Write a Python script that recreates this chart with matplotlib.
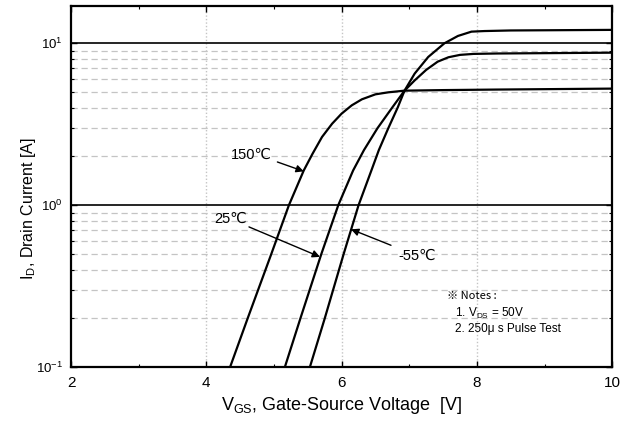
import numpy as np
import matplotlib.pyplot as plt
from matplotlib.ticker import FixedLocator, LogLocator, NullFormatter

plt.rcParams['font.family'] = ['Liberation Sans', 'DejaVu Sans']
plt.rcParams['mathtext.fontset'] = 'custom'
plt.rcParams['mathtext.rm'] = 'Liberation Sans'

# Transfer characteristics read at three junction temperatures
vgs_150 = [4.35, 4.61, 4.96, 5.22, 5.44, 5.57, 5.71, 5.86, 6.00, 6.15, 6.30, 6.50, 6.69,
           6.93, 7.50, 8.30, 10.0]
id_150 = [0.1, 0.2, 0.5, 1.0, 1.64, 2.08, 2.64, 3.19, 3.68, 4.14, 4.51, 4.84, 4.98,
          5.1, 5.14, 5.18, 5.25]

vgs_25 = [5.16, 5.39, 5.70, 5.95, 6.17, 6.33, 6.53, 6.75, 6.93, 7.08, 7.25, 7.42, 7.58,
          7.75, 7.95, 8.30, 10.0]
id_25 = [0.1, 0.2, 0.5, 1.0, 1.64, 2.19, 2.99, 4.02, 5.1, 5.9, 6.85, 7.7, 8.2,
         8.48, 8.6, 8.65, 8.75]

vgs_m55 = [5.53, 5.75, 6.03, 6.25, 6.44, 6.55, 6.69, 6.83, 6.93, 7.08, 7.28, 7.52, 7.72,
           7.92, 8.11, 8.50, 10.0]
id_m55 = [0.1, 0.2, 0.5, 1.0, 1.64, 2.19, 2.99, 4.02, 5.1, 6.5, 8.23, 10.0, 11.1,
          11.8, 11.9, 12.0, 12.1]

labels = ['150℃', '25℃', '-55℃']
label_pos = [(4.66, 2.05), (4.36, 0.83), (7.12, 0.484)]
arrow_start = [(5.05, 1.85), (4.63, 0.735), (6.73, 0.566)]
arrow_tips = [(5.44, 1.62), (5.68, 0.48), (6.14, 0.71)]

fig = plt.figure(figsize=(6.35, 4.26), dpi=100)
ax = fig.add_axes([0.112, 0.138, 0.852, 0.848])

ax.set_xlim(2, 10)
ax.set_ylim(0.1, 17)
ax.set_yscale('log')

# grid: solid decades, dashed minors, dotted verticals
for v in [1, 10]:
    ax.axhline(v, color='black', lw=1.2, zorder=1)
for d in [0.1, 1]:
    for m in range(2, 10):
        ax.axhline(d * m, color='#c4c4c4', lw=0.9, ls=(0, (5, 3)), zorder=0)
for x in [4, 6, 8]:
    ax.axvline(x, color='#c4c4c4', lw=1.0, ls=(0, (1, 1.5)), zorder=0)

for xs, ys in [(vgs_150, id_150), (vgs_25, id_25), (vgs_m55, id_m55)]:
    ax.plot(xs, ys, color='black', lw=1.6, zorder=3, solid_joinstyle='round')

for txt, pos, start, tip in zip(labels, label_pos, arrow_start, arrow_tips):
    ax.text(pos[0], pos[1], txt, fontsize=10.5, ha='center', va='center')
    ax.annotate('', xy=tip, xytext=start,
                arrowprops=dict(arrowstyle='-|>', color='black', lw=1.0,
                                mutation_scale=11, shrinkA=0, shrinkB=0))

ax.text(0.694, 0.197, '※ Notes :', transform=ax.transAxes, fontsize=8, ha='left', va='center',
        family=['Noto Sans CJK JP', 'DejaVu Sans'])
ax.text(0.710, 0.149, r'1. V$_{\rm DS}$ = 50V', transform=ax.transAxes, fontsize=8.5,
        ha='left', va='center')
ax.text(0.710, 0.107, '2. 250μ s Pulse Test', transform=ax.transAxes, fontsize=8.5,
        ha='left', va='center')

ax.xaxis.set_major_locator(FixedLocator([2, 4, 6, 8, 10]))
ax.xaxis.set_minor_locator(FixedLocator([3, 5, 7, 9]))
ax.yaxis.set_major_locator(LogLocator(base=10, numticks=5))
ax.yaxis.set_minor_locator(LogLocator(base=10, subs=np.arange(2, 10), numticks=10))
ax.yaxis.set_minor_formatter(NullFormatter())
ax.tick_params(which='both', direction='in', top=True, right=True)
ax.tick_params(which='major', length=4, width=1.0, labelsize=11, pad=6)
ax.tick_params(which='minor', length=2.5, width=0.8)
ax.tick_params(axis='y', labelsize=9.5)

for s in ax.spines.values():
    s.set_linewidth(1.6)

ax.set_xlabel(r'V$_{\rm GS}$, Gate-Source Voltage  [V]', fontsize=13, labelpad=4)
ax.set_ylabel(r'I$_{\rm D}$, Drain Current [A]', fontsize=11.5)
ax.yaxis.set_label_coords(-0.062, 0.44)

fig.savefig('out.png', dpi=100)
